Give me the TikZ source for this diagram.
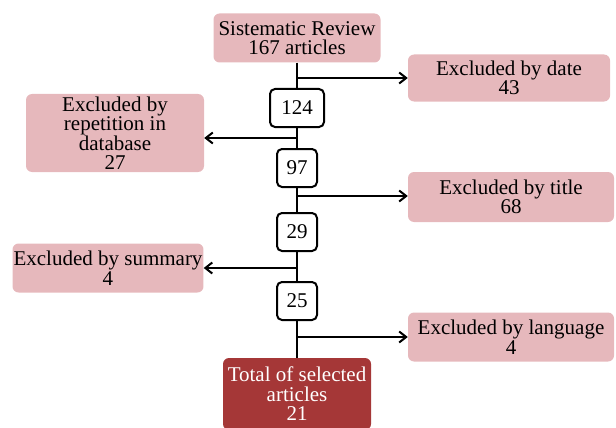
\documentclass[tikz,border=0pt]{standalone}
\usepackage{fontspec}
\setmainfont{Liberation Serif}
\usetikzlibrary{positioning, calc, arrows.meta}
\definecolor{pinkbox}{RGB}{230,184,188}
\definecolor{darkbox}{RGB}{165,55,55}
\tikzset{excl/.style={fill=pinkbox, rounded corners=6pt, align=center, inner sep=1pt, font=\fontsize{21}{19.5}\selectfont}}
\tikzset{count/.style={draw=black, line width=2pt, fill=white, rounded corners=5pt, minimum width=40pt, minimum height=38pt, inner sep=1pt, font=\fontsize{21}{19.5}\selectfont}}
\tikzset{total/.style={fill=darkbox, text=white, rounded corners=6pt, align=center, inner sep=1pt, font=\fontsize{21}{19.5}\selectfont}}
\tikzset{flow/.style={line width=2pt}}
\tikzset{branch/.style={line width=2pt, -{Straight Barb[length=7pt, width=11pt, line width=2pt]}}}

\begin{document}
\begin{tikzpicture}[x=1pt, y=-1pt]
  \useasboundingbox (0,0) rectangle (616,428);

  \node[excl, minimum width=167pt, minimum height=49pt] (src) at (297,38) {Sistematic Review\\167 articles};
  \node[count, minimum width=54pt] (n124) at (297,108) {124};
  \node[count] (n97)  at (297,168) {97};
  \node[count] (n29)  at (297,232) {29};
  \node[count] (n25)  at (297,301) {25};
  \node[total, minimum width=148pt, minimum height=72pt] (sel) at (297,394) {Total of selected\\articles\\21};

  \node[excl, minimum width=202pt, minimum height=47pt] (date) at (509,78) {Excluded by date\\43};
  \node[excl, minimum width=178pt, minimum height=78pt] (rep)  at (115,133) {Excluded by\\repetition in\\database\\27};
  \node[excl, minimum width=206pt, minimum height=50pt] (title) at (511,197) {Excluded by title\\68};
  \node[excl, minimum width=190pt, minimum height=49pt] (summ) at (108,268) {Excluded by summary\\4};
  \node[excl, minimum width=206pt, minimum height=49pt] (lang) at (511,337) {Excluded by language\\4};

  % main line
  \draw[flow] (src) -- (n124) -- (n97) -- (n29) -- (n25) -- (sel);

  \coordinate (b1) at (297,78);
  \coordinate (b2) at (297,138);
  \coordinate (b3) at (297,196);
  \coordinate (b4) at (297,268);
  \coordinate (b5) at (297,337);

  \draw[branch] (b1) -- (b1 -| date.west);
  \draw[branch] (b2) -- (b2 -| rep.east);
  \draw[branch] (b3) -- (b3 -| title.west);
  \draw[branch] (b4) -- (b4 -| summ.east);
  \draw[branch] (b5) -- (b5 -| lang.west);

\end{tikzpicture}
\end{document}
